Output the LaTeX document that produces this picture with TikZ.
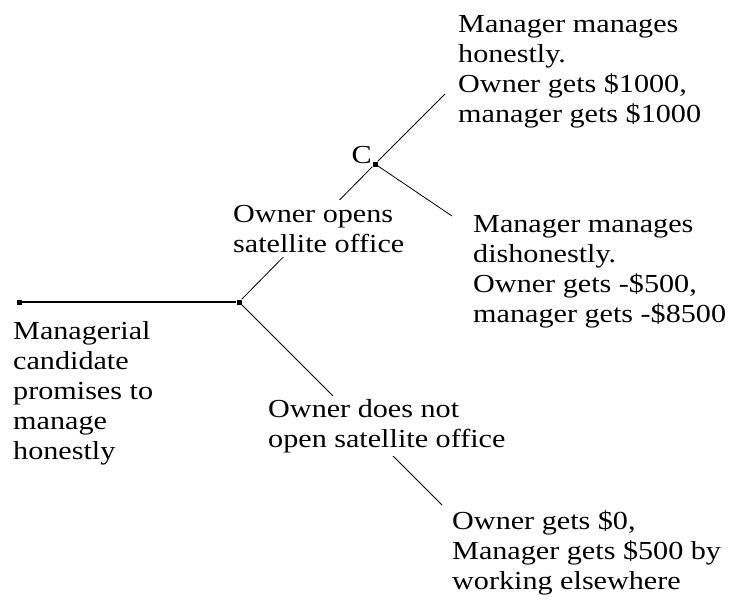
\documentclass[tikz,border=0pt]{standalone}
\usepackage{fontspec}
\setmainfont{Liberation Serif}[FakeStretch=1.16]
\usetikzlibrary{positioning,calc}

\begin{document}
\begin{tikzpicture}[
    x=1pt, y=-1pt,
    dot/.style={rectangle, fill=black, inner sep=0pt, minimum size=5pt},
    label/.style={anchor=base west, align=left, inner sep=0pt, font=\fontsize{26}{30}\selectfont},
    cover/.style={label, fill=white, inner xsep=3pt, inner ysep=3pt},
    branch/.style={line width=0.8pt},
    stem/.style={line width=1.8pt}
]
    \useasboundingbox (0,0) rectangle (734,605);

    % Start
    \node[dot] (start) at (19,302) {};
    \node[dot] (owner) at (239,302) {};
    \draw[stem] (start) -- (owner);
    \node[label] (cand) at (13,459) {Managerial\\candidate\\promises to\\manage\\honestly};

    % Owner opens
    \node[dot] (chance) at (375,164) {};
    \draw[branch] (owner) -- (chance);
    \node[cover, inner ysep=5pt] (opens) at (230,252) {Owner opens\\satellite office};
    \node[label, anchor=base east] (clabel) at (372,163) {C};

    % Manager honest
    \coordinate (honend) at (445,94);
    \draw[branch] (chance) -- (honend);
    \node[label] (honest) at (458,122) {Manager manages\\honestly.\\Owner gets \$1000,\\manager gets \$1000};

    % Manager dishonest
    \coordinate (disend) at (452,216);
    \draw[branch] (chance) -- (disend);
    \node[label] (dishonest) at (473,322) {Manager manages\\dishonestly.\\Owner gets -\$500,\\manager gets -\$8500};

    % Owner does not open
    \coordinate (notend) at (442,505);
    \draw[branch] (owner) -- (notend);
    \node[cover] (notopen) at (265,447) {Owner does not\\open satellite office};
    \node[label] (elsewhere) at (452,589) {Owner gets \$0,\\Manager gets \$500 by\\working elsewhere};
\end{tikzpicture}
\end{document}
